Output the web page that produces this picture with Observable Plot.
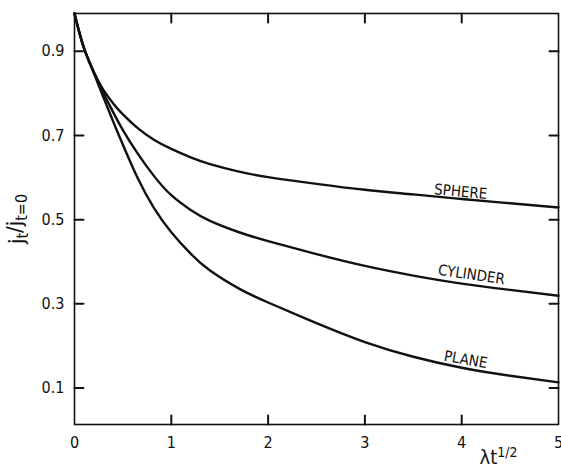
<!DOCTYPE html>
<html>
<head>
<meta charset="utf-8">
<script src="https://cdn.jsdelivr.net/npm/d3@7"></script>
<script src="https://cdn.jsdelivr.net/npm/@observablehq/plot@0.6"></script>
<style>
  html, body { margin: 0; padding: 0; background: #fff; }
  #chart svg { display: block; }
</style>
</head>
<body>
<div id="chart"></div>
<script>
// λt^(1/2) sample positions
const xValues = [0, 0.05, 0.1, 0.15, 0.2, 0.25, 0.3, 0.4, 0.5, 0.65, 0.82, 1.0, 1.2, 1.4, 1.7, 2.0, 2.5, 3.0, 3.5, 4.0, 4.5, 5.0];
// j_t / j_(t=0)
const sphere   = [0.99, 0.945, 0.907, 0.877, 0.851, 0.828, 0.808, 0.776, 0.750, 0.718, 0.690, 0.668, 0.648, 0.632, 0.614, 0.601, 0.585, 0.571, 0.560, 0.549, 0.539, 0.529];
const cylinder = [0.99, 0.945, 0.906, 0.877, 0.850, 0.824, 0.800, 0.755, 0.713, 0.658, 0.604, 0.558, 0.523, 0.497, 0.470, 0.449, 0.418, 0.390, 0.367, 0.348, 0.333, 0.319];
const plane    = [0.99, 0.944, 0.906, 0.876, 0.848, 0.819, 0.790, 0.733, 0.678, 0.600, 0.528, 0.470, 0.419, 0.379, 0.336, 0.303, 0.254, 0.209, 0.174, 0.148, 0.129, 0.113];

const seriesNames = ["SPHERE", "CYLINDER", "PLANE"];
const labelX = [3.99, 4.10, 4.04];
const labelY = [0.566, 0.369, 0.167];
const labelAngle = [5, 8, 10];

const xTicks = [0, 1, 2, 3, 4, 5];
const xInnerTicks = [1, 2, 3, 4];
const yTicks = [0.1, 0.3, 0.5, 0.7, 0.9];
const xDomain = [0, 5];
const yDomain = [0.013, 0.99];

const seriesValues = [sphere, cylinder, plane];
const rows = [];
seriesNames.forEach((name, i) => {
  xValues.forEach((x, j) => rows.push({series: name, x, y: seriesValues[i][j]}));
});
const labels = seriesNames.map((name, i) => ({name, x: labelX[i], y: labelY[i], a: labelAngle[i]}));

const font = "'DejaVu Sans Condensed', 'DejaVu Sans', sans-serif";
const W = 561, H = 475, mL = 74, mR = 3, mT = 13, mB = 51;
const innerW = W - mL - mR, innerH = H - mT - mB;
const tickPx = 9;
// tick length converted to data units of each scale
const tdy = (yDomain[1] - yDomain[0]) * tickPx / innerH;
const tdx = (xDomain[1] - xDomain[0]) * tickPx / innerW;

// short two-point segments for inward ticks on all four sides
const tickSegs = [];
xInnerTicks.forEach(v => {
  tickSegs.push({id: "b" + v, x: v, y: yDomain[0]}, {id: "b" + v, x: v, y: yDomain[0] + tdy});
  tickSegs.push({id: "t" + v, x: v, y: yDomain[1]}, {id: "t" + v, x: v, y: yDomain[1] - tdy});
});
yTicks.forEach(v => {
  tickSegs.push({id: "l" + v, x: xDomain[0], y: v}, {id: "l" + v, x: xDomain[0] + tdx, y: v});
  tickSegs.push({id: "r" + v, x: xDomain[1], y: v}, {id: "r" + v, x: xDomain[1] - tdx, y: v});
});

const chart = Plot.plot({
  width: W,
  height: H,
  marginLeft: mL,
  marginRight: mR,
  marginTop: mT,
  marginBottom: mB,
  style: {fontFamily: font, background: "#fff", color: "#111"},
  x: {domain: xDomain},
  y: {domain: yDomain},
  marks: [
    Plot.frame({stroke: "#111", strokeWidth: 1.6}),
    Plot.axisX({anchor: "bottom", ticks: xTicks, tickSize: 0, tickPadding: 12, fontSize: 16, tickFormat: d3.format("d"), label: null}),
    Plot.axisY({anchor: "left", ticks: yTicks, tickSize: 0, tickPadding: 10, fontSize: 16, tickFormat: d3.format(".1f"), label: null}),
    Plot.line(tickSegs, {x: "x", y: "y", z: "id", stroke: "#111", strokeWidth: 2}),
    Plot.line(rows, {x: "x", y: "y", z: "series", stroke: "#111", strokeWidth: 2.4, curve: "natural"}),
    Plot.text(labels, {x: "x", y: "y", text: "name", rotate: "a", fontSize: 15, fill: "#111", style: {letterSpacing: "2px"}}),
    Plot.text(["YLABEL"], {frameAnchor: "left", textAnchor: "middle", dx: -58, dy: 0, rotate: -90, fontSize: 22, fill: "#111"}),
    Plot.text(["XLABEL"], {frameAnchor: "bottom-right", textAnchor: "middle", dx: -60, dy: 39, fontSize: 20, fill: "#111"})
  ]
});

// Replace placeholder axis titles with sub/superscripted real text
d3.select(chart).selectAll("text").each(function() {
  const t = d3.select(this);
  const s = t.text();
  if (s === "YLABEL") {
    t.text("");
    t.append("tspan").text("j");
    t.append("tspan").attr("dy", "0.3em").attr("font-size", 16).text("t");
    t.append("tspan").attr("dy", "-0.3em").text("/j");
    t.append("tspan").attr("dy", "0.3em").attr("font-size", 16).text("t=0");
  } else if (s === "XLABEL") {
    t.text("");
    t.append("tspan").text("λt");
    t.append("tspan").attr("dy", "-0.45em").attr("font-size", 14).text("1/2");
  }
});

document.getElementById("chart").appendChild(chart);
</script>
</body>
</html>
